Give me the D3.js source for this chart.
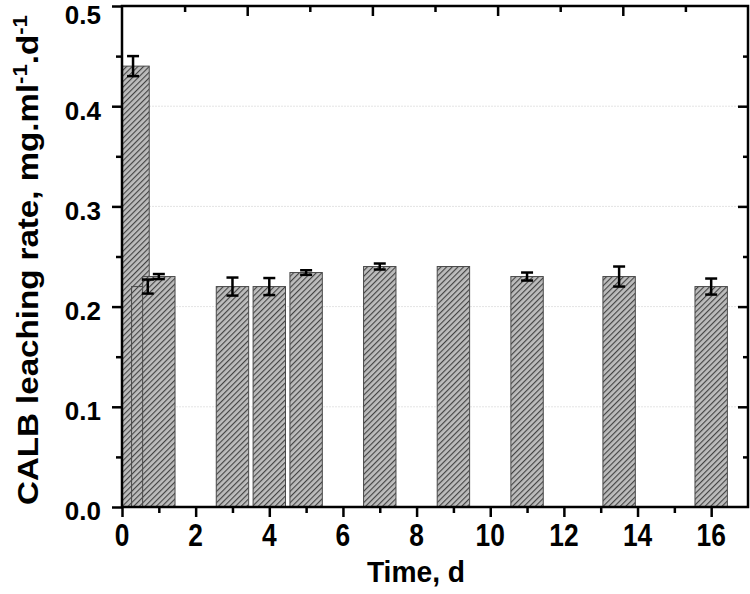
<!DOCTYPE html>
<html>
<head>
<meta charset="utf-8">
<script src="https://cdn.jsdelivr.net/npm/d3@7/dist/d3.min.js"></script>
<style>
  html, body { margin: 0; padding: 0; background: #fff; }
  svg { display: block; }
  text { font-family: "Liberation Sans", Arial, sans-serif; font-weight: bold; fill: #000; }
</style>
</head>
<body>
<svg id="chart" width="750" height="594"></svg>
<script>
// ---- data ----
const times  = [0.3, 0.7, 1, 3, 4, 5, 7, 9, 11, 13.5, 16];
const rates  = [0.44, 0.22, 0.23, 0.22, 0.22, 0.234, 0.24, 0.24, 0.23, 0.23, 0.22];
const errors = [0.01, 0.007, 0.0025, 0.009, 0.0085, 0.0023, 0.003, 0, 0.004, 0.01, 0.008];
const xTickLabels = ["0", "2", "4", "6", "8", "10", "12", "14", "16"];
const yTickLabels = ["0.0", "0.1", "0.2", "0.3", "0.4", "0.5"];
const xTitle = "Time, d";
const yTitleParts = ["CALB leaching rate, mg.ml", "-1", ".d", "-1"];

// ---- layout ----
const L = 122, R = 748, T = 6, B = 507;
const barWidth = 0.88;
const svg = d3.select("#chart");
const x = d3.scaleLinear().domain([0, 17]).range([L, R]);
const y = d3.scaleLinear().domain([0, 0.5]).range([B, T]);
const xTop = d3.scaleLinear().domain([0, 10]).range([L, R]);

// hatch pattern
const defs = svg.append("defs");
const pat = defs.append("pattern").attr("id", "hatch")
  .attr("patternUnits", "userSpaceOnUse").attr("width", 4).attr("height", 4)
  .attr("patternTransform", "rotate(45)");
pat.append("rect").attr("width", 4).attr("height", 4).attr("fill", "#bdbdbd");
pat.append("line").attr("x1", 0.6).attr("y1", 0).attr("x2", 0.6).attr("y2", 4)
  .attr("stroke", "#3a3a3a").attr("stroke-width", 1.05);
defs.append("clipPath").attr("id", "plotclip").append("rect")
  .attr("x", L).attr("y", T).attr("width", R - L).attr("height", B - T);

// gridlines
svg.append("g").selectAll("line").data([0.1, 0.2, 0.3, 0.4]).join("line")
  .attr("x1", L).attr("x2", R).attr("y1", d => y(d)).attr("y2", d => y(d))
  .attr("stroke", "#e4e4e4").attr("stroke-width", 1).attr("stroke-dasharray", "2,1");

// bars
const plot = svg.append("g").attr("clip-path", "url(#plotclip)");
const data = times.map((t, i) => ({ t, v: rates[i], e: errors[i] }));
plot.selectAll("rect.bar").data(data).join("rect").attr("class", "bar")
  .attr("x", d => x(d.t - barWidth / 2))
  .attr("width", d => x(barWidth) - x(0))
  .attr("y", d => y(d.v))
  .attr("height", d => y(0) - y(d.v))
  .attr("fill", "url(#hatch)")
  .attr("stroke", "#4a4a4a").attr("stroke-width", 1);

// error bars
const eb = svg.append("g").attr("stroke", "#000").attr("stroke-width", 2.5);
data.filter(d => d.e > 0).forEach(d => {
  const cx = x(d.t);
  eb.append("line").attr("x1", cx).attr("x2", cx).attr("y1", y(d.v + d.e)).attr("y2", y(d.v - d.e));
  eb.append("line").attr("x1", cx - 6).attr("x2", cx + 6).attr("y1", y(d.v + d.e)).attr("y2", y(d.v + d.e));
  eb.append("line").attr("x1", cx - 6).attr("x2", cx + 6).attr("y1", y(d.v - d.e)).attr("y2", y(d.v - d.e));
});

// axes
const tickStyle = g => { g.select(".domain").remove(); g.selectAll("line").attr("stroke", "#000").attr("stroke-width", 2.5); g.selectAll("text").remove(); };
svg.append("g").attr("transform", `translate(0,${B})`)
  .call(d3.axisBottom(x).tickValues(d3.range(0, 17, 2)).tickSize(10)).call(tickStyle);
svg.append("g").attr("transform", `translate(0,${B})`)
  .call(d3.axisBottom(x).tickValues(d3.range(1, 17, 2)).tickSize(6)).call(tickStyle);
svg.append("g").attr("transform", `translate(${L},0)`)
  .call(d3.axisLeft(y).tickValues([0, 0.1, 0.2, 0.3, 0.4, 0.5]).tickSize(10)).call(tickStyle);
svg.append("g").attr("transform", `translate(${L},0)`)
  .call(d3.axisLeft(y).tickValues([0.05, 0.15, 0.25, 0.35, 0.45]).tickSize(6)).call(tickStyle);
svg.append("g").attr("transform", `translate(${R},0)`)
  .call(d3.axisRight(y).tickValues([0.1, 0.2, 0.3, 0.4]).tickSize(-10)).call(tickStyle);
svg.append("g").attr("transform", `translate(${R},0)`)
  .call(d3.axisRight(y).tickValues([0.05, 0.15, 0.25, 0.35, 0.45]).tickSize(-5)).call(tickStyle);
svg.append("g").attr("transform", `translate(0,${T})`)
  .call(d3.axisTop(xTop).tickValues([2, 4, 6, 8]).tickSize(-10)).call(tickStyle);
svg.append("g").attr("transform", `translate(0,${T})`)
  .call(d3.axisTop(xTop).tickValues([1, 3, 5, 7, 9]).tickSize(-6)).call(tickStyle);

// frame
svg.append("rect").attr("x", L).attr("y", T).attr("width", R - L).attr("height", B - T)
  .attr("fill", "none").attr("stroke", "#000").attr("stroke-width", 2.5);

// tick labels
svg.append("g").selectAll("text").data(xTickLabels).join("text")
  .attr("transform", d => `translate(${x(+d)},546) scale(0.85,1)`)
  .attr("text-anchor", "middle").attr("font-size", 31).text(d => d);
svg.append("g").selectAll("text").data(yTickLabels).join("text")
  .attr("x", 101).attr("y", d => Math.max(y(+d) + 4, 15)).attr("dy", "0.36em")
  .attr("text-anchor", "end").attr("font-size", 26).text(d => d);

// x title
svg.append("text").attr("transform", "translate(416,582) scale(0.94,1)")
  .attr("text-anchor", "middle").attr("font-size", 30).text(xTitle);

// y title (rotated), stretched to span
const yt = svg.append("text").attr("font-size", 30);
yt.append("tspan").text(yTitleParts[0]);
yt.append("tspan").attr("font-size", 20).attr("dy", -11).text(yTitleParts[1]);
yt.append("tspan").attr("dy", 11).text(yTitleParts[2]);
yt.append("tspan").attr("font-size", 20).attr("dy", -11).text(yTitleParts[3]);
const w = yt.node().getComputedTextLength();
const target = 490;
yt.attr("transform", `translate(38,505) rotate(-90) scale(${target / w},1)`);
</script>
</body>
</html>
